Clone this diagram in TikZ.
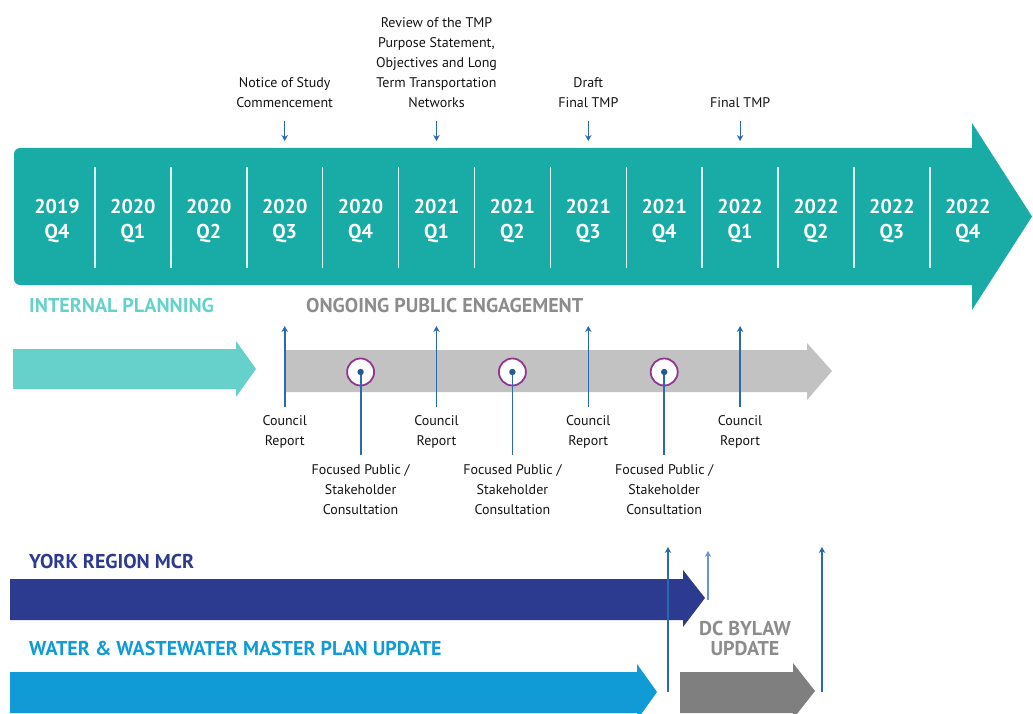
\documentclass[tikz,border=0pt]{standalone}
\usepackage{fontspec}
\setmainfont{PT Sans}
\usetikzlibrary{arrows.meta, positioning}
\definecolor{barteal}{HTML}{19ABA5}
\definecolor{planteal}{HTML}{66D1CB}
\definecolor{engagegrey}{HTML}{C2C2C2}
\definecolor{engagetext}{HTML}{8C8C8C}
\definecolor{mcrnavy}{HTML}{2C3A8F}
\definecolor{waterblue}{HTML}{109BD7}
\definecolor{bylawgrey}{HTML}{7F7F7F}
\definecolor{cueblue}{HTML}{2A6AB2}
\definecolor{ringpurple}{HTML}{93368F}
\tikzset{
		quarter/.style={
			text=white,
			font=\fontsize{20}{25}\selectfont\bfseries,
			align=center,
			inner sep=0pt
		},
		milestone/.style={
			text=black!92,
			font=\fontsize{14}{20}\selectfont,
			align=center,
			inner sep=0pt
		},
		stream/.style={
			font=\fontsize{20}{20}\selectfont\bfseries,
			inner sep=0pt
		},
		notearrow/.style={draw=cueblue, line width=1.2pt, -{Stealth[length=6pt,width=6.5pt]}},
		reportarrow/.style={notearrow, line width=1.6pt},
		stem/.style={draw=cueblue, line width=1.8pt},
		consult/.style={
			circle,
			draw=ringpurple,
			line width=1.8pt,
			fill=white,
			minimum size=27pt,
			inner sep=0pt
		}
	}
\begin{document}
\begin{tikzpicture}[x=1pt, y=-1pt]
	\useasboundingbox (0,0) rectangle (1033,714);
	\clip (0,0) rectangle (1033,714);
	% quarter bar
	\fill[barteal, rounded corners=6pt] (14,148) rectangle (985,285);
	\fill[barteal] (972,123) -- (1032,216.5) -- (972,310) -- cycle;
	\foreach \i in {1,...,12}
		\draw[white!85!barteal, line width=1.5pt] ({19.05+75.9*\i},167) -- ({19.05+75.9*\i},268);
	\foreach \yr/\q [count=\i from 0] in {2019/4, 2020/1, 2020/2, 2020/3, 2020/4, 2021/1, 2021/2,
			2021/3, 2021/4, 2022/1, 2022/2, 2022/3, 2022/4}
		\node[quarter] (q\i) at ({57+75.9*\i},221) {\yr\\Q\q};
	\coordinate (barline) at (0,141);

	% milestones above the bar
	\node[milestone, anchor=south] (notice) at (q3 |- 0,108) {Notice of Study\\Commencement};
	\node[milestone, anchor=south] (review) at (q5 |- 0,108) {Review of the TMP\\Purpose Statement,\\Objectives and Long\\Term Transportation\\Networks};
	\node[milestone, anchor=south] (draft) at (q7 |- 0,108) {Draft\\Final TMP};
	\node[milestone, anchor=south] (final) at (q9 |- 0,108) {Final TMP};
	\foreach \m in {notice, review, draft, final}
		\draw[notearrow, shorten <=13pt] (\m.south) -- (\m.south |- barline);

	% internal planning and public engagement
	\node[stream, text=planteal, anchor=west] (intplan) at (29,305) {INTERNAL PLANNING};
	\node[stream, text=engagetext, anchor=west] (ongoing) at (306,305) {ONGOING PUBLIC ENGAGEMENT};
	\fill[planteal] (13,349) -- (236,349) -- (236,341) -- (256,369) -- (236,397) -- (236,389) -- (13,389) -- cycle;
	\fill[engagegrey] (285,350) -- (807,350) -- (807,343) -- (832,371) -- (807,400) -- (807,392) -- (285,392) -- cycle;
	\coordinate (reportline) at (0,326);
	\foreach \c [count=\k] in {3,5,7,9} {
		\node[milestone, anchor=north] (cr\k) at (q\c |- 0,415) {Council\\Report};
		\draw[reportarrow, shorten <=8pt] (cr\k.north) -- (cr\k.north |- reportline);
	}
	\foreach \c [count=\k] in {4,6,8} {
		\node[consult] (ring\k) at (q\c |- 0,372) {};
		\node[milestone, anchor=north] (fc\k) at (q\c |- 0,464) {Focused Public /\\Stakeholder\\Consultation};
		\draw[stem, shorten >=9pt] (ring\k.center) -- (fc\k.north);
		\fill[cueblue!85!black] (ring\k.center) circle (3.2pt);
	}

	% york region, water and dc bylaw
	\node[stream, text=mcrnavy, anchor=west] (mcr) at (29,561) {YORK REGION MCR};
	\node[stream, text=waterblue, anchor=west] (water) at (29,648) {WATER \& WASTEWATER MASTER PLAN UPDATE};
	\node[stream, text=engagetext, align=center] (bylaw) at (745,638) {DC BYLAW\\UPDATE};
	\fill[mcrnavy] (10,579) -- (683,579) -- (683,570) -- (705,598) -- (683,627) -- (683,620) -- (10,620) -- cycle;
	\fill[waterblue] (10,672) -- (637,672) -- (637,664) -- (657,692) -- (637,720) -- (637,713) -- (10,713) -- cycle;
	\fill[bylawgrey] (680,672) -- (793,672) -- (793,663) -- (815,691) -- (793,719) -- (793,713) -- (680,713) -- cycle;
	\coordinate (waterend) at (668,692);
	\coordinate (mcrend) at (708,600);
	\coordinate (bylawend) at (822,692);
	\draw[reportarrow] (waterend) -- (waterend |- 0,547);
	\draw[reportarrow, draw=cueblue!70!white, line width=1.3pt] (mcrend) -- (mcrend |- 0,551);
	\draw[reportarrow] (bylawend) -- (bylawend |- 0,547);
\end{tikzpicture}
\end{document}
